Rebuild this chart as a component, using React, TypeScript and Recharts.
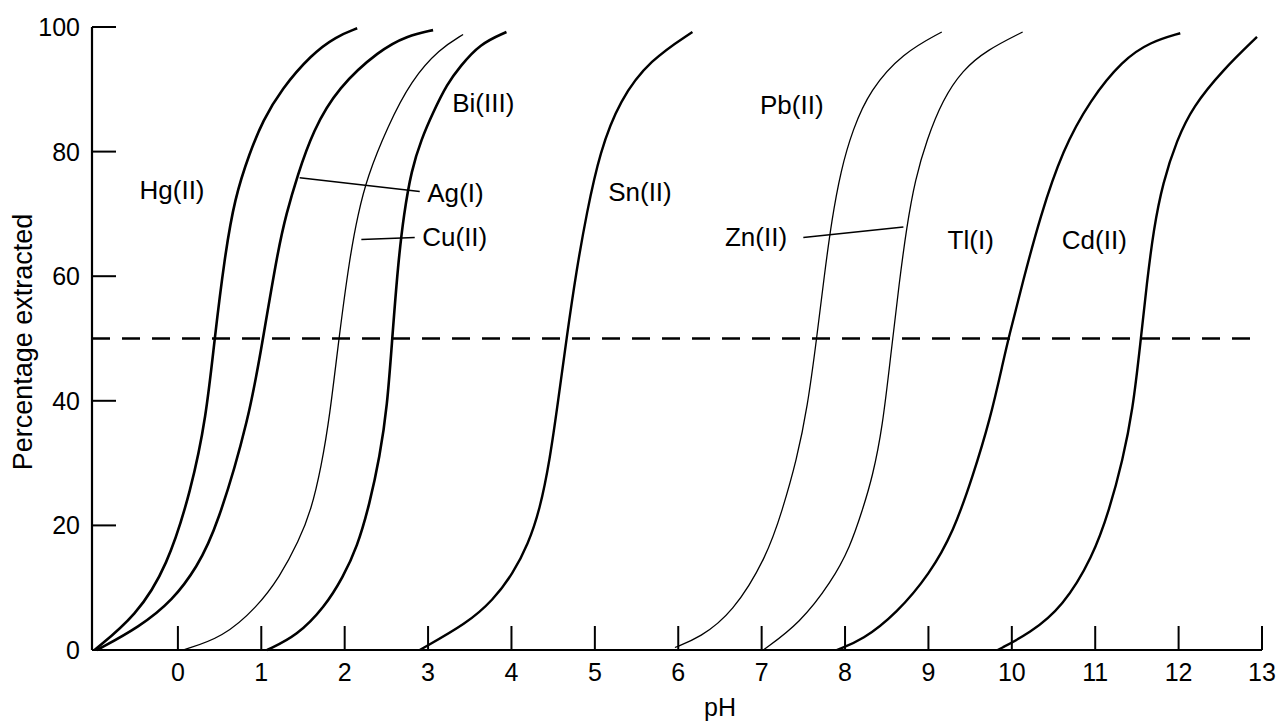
import React from 'react';
import { LineChart, Line, XAxis, YAxis, ReferenceLine, ReferenceDot, Label } from 'recharts';

const FONT = '"Liberation Sans", Arial, Helvetica, sans-serif';

const xTicks = [0, 1, 2, 3, 4, 5, 6, 7, 8, 9, 10, 11, 12, 13];
const yTicks = [0, 20, 40, 60, 80, 100];

// [pH, percentage extracted]
const hgII = [
  [-1, 0], [-0.5, 5.5], [-0.13, 13.3], [0.16, 25.7], [0.34, 37.4], [0.44, 50], [0.56, 63],
  [0.68, 72.5], [0.86, 79.8], [1.02, 85], [1.24, 90], [1.6, 95.6], [1.9, 98.5], [2.15, 99.8],
];
const agI = [
  [-0.97, 0], [-0.46, 3.7], [-0.06, 8], [0.23, 13.3], [0.47, 19.7], [0.86, 37.4], [1.02, 50],
  [1.2, 64.2], [1.3, 70], [1.43, 76], [1.62, 83.4], [1.92, 90.3], [2.42, 96.3], [2.75, 98.6],
  [3.06, 99.5],
];
const cuII = [
  [0.06, 0], [0.54, 2], [0.95, 6.9], [1.22, 11.7], [1.45, 17.5], [1.6, 22.5], [1.72, 29.5],
  [1.82, 37.4], [1.93, 50], [2.06, 63], [2.16, 70], [2.27, 75.9], [2.51, 83.9], [2.8, 91.5],
  [3.14, 96.5], [3.42, 98.8],
];
const biIII = [
  [1.07, 0], [1.43, 2.3], [1.76, 6.9], [1.98, 11.7], [2.15, 16.5], [2.3, 23.5], [2.42, 31],
  [2.51, 39], [2.57, 50], [2.64, 62], [2.71, 70], [2.8, 77], [2.92, 82], [3.06, 86.3],
  [3.23, 90.9], [3.38, 93.6], [3.62, 97.3], [3.94, 99.2],
];
const snII = [
  [2.9, 0], [3.47, 4.3], [3.78, 8], [4.02, 12.3], [4.2, 17], [4.34, 22.5], [4.46, 30.5],
  [4.56, 40], [4.66, 50], [4.78, 61], [4.9, 70], [5.06, 80], [5.3, 88.3], [5.66, 94.7],
  [6.17, 99.2],
];
const pbII = [
  [5.96, 0.4], [6.26, 2], [6.65, 5.9], [7.06, 14.9], [7.25, 22.5], [7.42, 30.5], [7.55, 39],
  [7.66, 50], [7.75, 60], [7.84, 69], [7.95, 77], [8.09, 83.5], [8.3, 89.9], [8.69, 95.8],
  [9.16, 99.2],
];
const znII = [
  [7.02, 0], [7.46, 4.3], [7.84, 11], [8.06, 16.5], [8.21, 22.5], [8.33, 27.8], [8.45, 35.8],
  [8.55, 47.5], [8.65, 59], [8.74, 68], [8.84, 75.5], [8.98, 81.9], [9.17, 88.3], [9.41, 93.1],
  [9.7, 96.3], [10.13, 99.2],
];
const tlI = [
  [7.9, 0], [8.21, 1.6], [8.62, 5.9], [9.02, 12.3], [9.3, 19], [9.53, 27.8], [9.74, 37],
  [9.9, 46.5], [9.96, 50], [10.13, 59], [10.34, 69.6], [10.61, 80.3], [10.94, 88.3],
  [11.33, 94.7], [11.66, 97.6], [12.02, 99],
];
const cdII = [
  [9.83, 0], [10.22, 2.7], [10.61, 6.9], [10.97, 14.9], [11.17, 22.5], [11.33, 30.5],
  [11.45, 38.5], [11.54, 49], [11.62, 59], [11.7, 67.5], [11.81, 75], [11.98, 81.9],
  [12.17, 87.2], [12.53, 93.1], [12.94, 98.4],
];

const toRows = (pts: number[][]) => pts.map(([ph, pct]) => ({ ph, pct }));

const curves = [
  { key: 'Hg(II)', pts: hgII, w: 2.6 },
  { key: 'Ag(I)', pts: agI, w: 2.6 },
  { key: 'Cu(II)', pts: cuII, w: 1.3 },
  { key: 'Bi(III)', pts: biIII, w: 2.6 },
  { key: 'Sn(II)', pts: snII, w: 2.4 },
  { key: 'Pb(II)', pts: pbII, w: 1.3 },
  { key: 'Zn(II)', pts: znII, w: 1.3 },
  { key: 'Tl(I)', pts: tlI, w: 2.4 },
  { key: 'Cd(II)', pts: cdII, w: 2.4 },
];

// label text with its left edge / vertical centre in data units
const labelNames = ['Hg(II)', 'Ag(I)', 'Cu(II)', 'Bi(III)', 'Sn(II)', 'Pb(II)', 'Zn(II)', 'Tl(I)', 'Cd(II)'];
const labelPH = [-0.46, 2.99, 2.93, 3.29, 5.16, 6.98, 6.56, 9.23, 10.6];
const labelPct = [73.8, 73.4, 66.3, 87.8, 73.5, 87.5, 66.3, 65.8, 65.8];

// leader lines from label to curve
const leaders = [
  [[1.46, 75.8], [2.9, 73.6]],
  [[2.2, 65.9], [2.84, 66.2]],
  [[7.5, 66.2], [8.7, 67.9]],
];

const XTick = (props: any) => {
  const { x, y, payload } = props;
  return (
    <g>
      <line x1={x} y1={y} x2={x} y2={y - 24} stroke="#000" strokeWidth={2} />
      <text x={x} y={y + 22} textAnchor="middle" dominantBaseline="central" fontSize={25} fontFamily={FONT} fill="#000">
        {payload.value}
      </text>
    </g>
  );
};

const YTick = (props: any) => {
  const { x, y, payload } = props;
  return (
    <g>
      {payload.value !== 0 && <line x1={x} y1={y} x2={x + 24} y2={y} stroke="#000" strokeWidth={2} />}
      <text x={x - 12} y={y} textAnchor="end" dominantBaseline="central" fontSize={25} fontFamily={FONT} fill="#000">
        {payload.value}
      </text>
    </g>
  );
};

const App: React.FC = () => {
  return (
    <div style={{ position: 'absolute', left: 0, top: 0, width: 1280, height: 725, background: '#fff' }}>
      <LineChart width={1280} height={725} margin={{ top: 27, right: 18, left: 0, bottom: 0 }}>
        <XAxis
          type="number"
          dataKey="ph"
          domain={[-1.03, 13]}
          ticks={xTicks}
          allowDataOverflow
          height={75}
          tickSize={0}
          tickMargin={0}
          tickLine={false}
          axisLine={{ stroke: '#000', strokeWidth: 2.2 }}
          tick={<XTick />}
          label={
            <Label
              content={() => (
                <text x={720} y={716} textAnchor="middle" fontSize={25} fontFamily={FONT} fill="#000">
                  pH
                </text>
              )}
            />
          }
        />
        <YAxis
          type="number"
          domain={[0, 100]}
          ticks={yTicks}
          width={92}
          tickSize={0}
          tickMargin={0}
          tickLine={false}
          axisLine={{ stroke: '#000', strokeWidth: 2.2 }}
          tick={<YTick />}
          label={
            <Label
              content={() => (
                <text
                  x={23}
                  y={342}
                  transform="rotate(-90 23 342)"
                  textAnchor="middle"
                  dominantBaseline="central"
                  fontSize={27}
                  fontFamily={FONT}
                  fill="#000"
                >
                  Percentage extracted
                </text>
              )}
            />
          }
        />
        <ReferenceLine y={50} stroke="#000" strokeWidth={2.4} strokeDasharray="18 12" />
        {leaders.map((seg, i) => (
          <ReferenceLine
            key={`leader-${i}`}
            segment={[{ x: seg[0][0], y: seg[0][1] }, { x: seg[1][0], y: seg[1][1] }]}
            stroke="#000"
            strokeWidth={1.6}
          />
        ))}
        {curves.map(c => (
          <Line
            key={c.key}
            data={toRows(c.pts)}
            dataKey="pct"
            type="basis"
            stroke="#000"
            strokeWidth={c.w}
            dot={false}
            isAnimationActive={false}
          />
        ))}
        {labelNames.map((name, i) => (
          <ReferenceDot
            key={name}
            x={labelPH[i]}
            y={labelPct[i]}
            r={1}
            fill="none"
            stroke="none"
            label={
              <Label
                content={(p: any) => {
                  const vb = p.viewBox || {};
                  const cx = (vb.x ?? 0) + (vb.width ?? 0) / 2;
                  const cy = (vb.y ?? 0) + (vb.height ?? 0) / 2;
                  return (
                    <text x={cx} y={cy} textAnchor="start" dominantBaseline="central" fontSize={26} fontFamily={FONT} fill="#000">
                      {name}
                    </text>
                  );
                }}
              />
            }
          />
        ))}
      </LineChart>
    </div>
  );
};

export default App;
